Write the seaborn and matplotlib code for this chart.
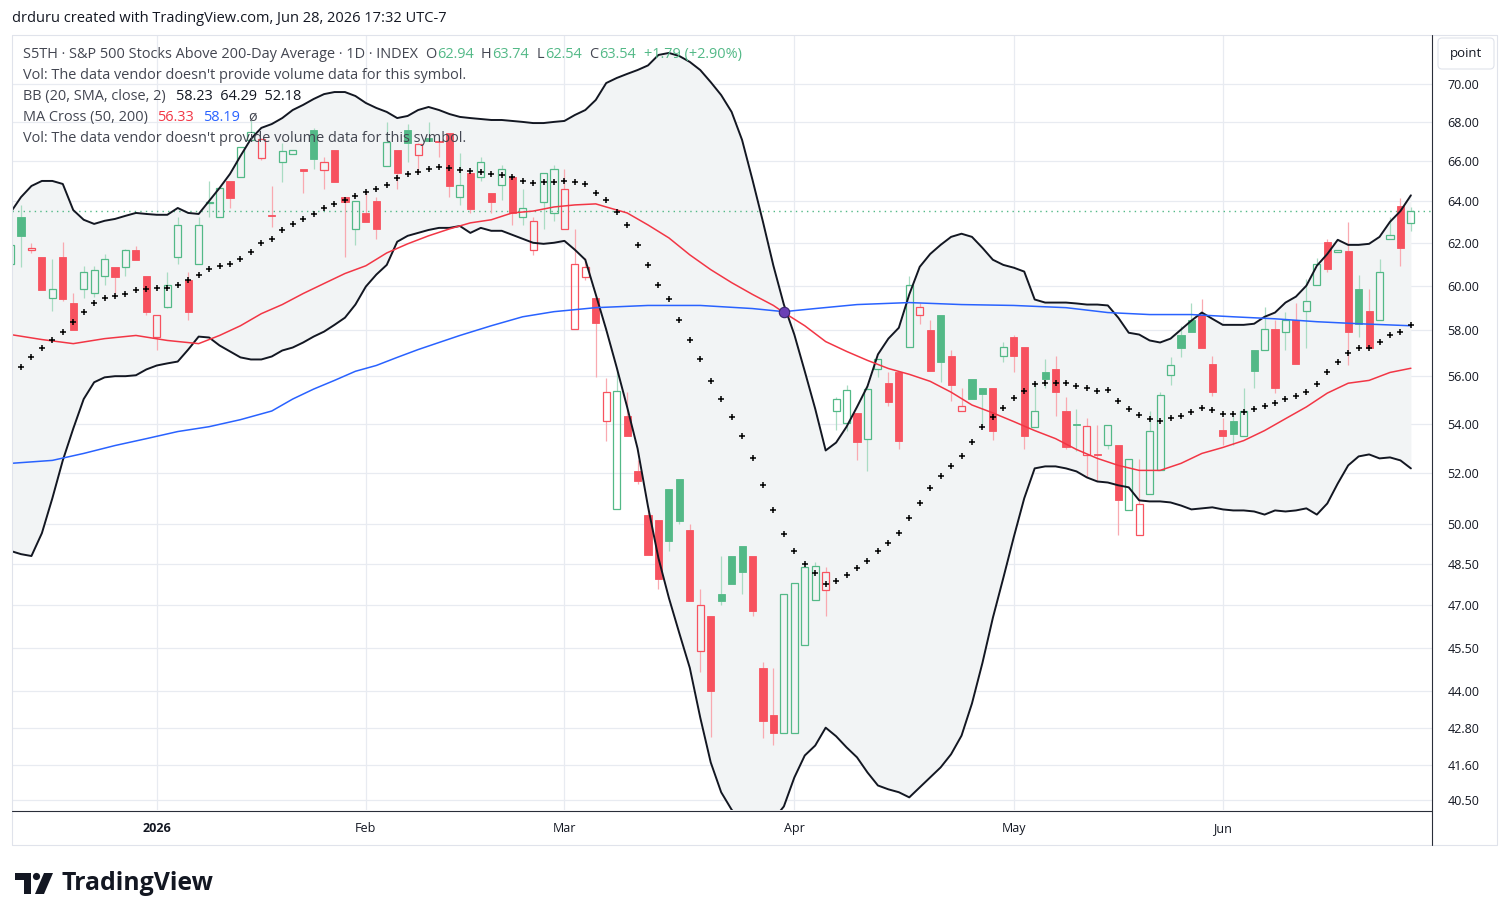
import matplotlib
matplotlib.use("Agg")
import numpy as np
import matplotlib.pyplot as plt
import matplotlib.ticker as ticker
from matplotlib.patches import Rectangle, FancyBboxPatch, Polygon, Circle
from matplotlib.lines import Line2D
from matplotlib.transforms import IdentityTransform
import seaborn as sns

# ---------------- data ----------------
# daily bars, index 0 = first full bar shown (Dec 12, 2025), -1 = cut-off bar
bar_index = list(range(-1, 134))
prior_close = 61.2

opens = [61.0,
         63.25, 61.65, 61.35, 59.46, 61.35, 59.2, 59.86, 59.68, 60.45, 60.85,
         60.85, 61.67, 60.45, 57.71, 59.05, 61.35, 60.28, 61.0, 63.92, 63.24,
         65.0, 65.2, 67.07, 66.14, 63.32, 65.95, 66.35, 65.6, 67.6, 65.55,
         66.56, 64.2, 62.66, 63.45, 64.01, 65.75, 66.56, 67.6, 66.3, 67.15,
         67.0, 67.45, 64.2, 65.4, 65.2, 64.4, 64.8, 65.2, 63.24, 61.67,
         63.96, 63.45, 62.66, 58.05, 60.4, 59.46, 54.1, 50.57, 54.31, 52.06,
         50.37, 50.15, 51.35, 51.74, 49.77, 45.39, 46.62, 47.4, 48.8, 49.17,
         48.8, 44.8, 43.23, 42.61, 42.61, 45.6, 47.19, 47.55, 54.52, 54.04,
         54.44, 53.38, 56.28, 55.69, 56.15, 57.27, 58.69, 58.02, 58.69, 56.84,
         54.5, 55.86, 55.5, 55.5, 56.84, 57.67, 57.27, 53.87, 56.15, 56.28,
         54.52, 54.0, 52.7, 52.76, 53.14, 53.14, 50.53, 49.58, 51.15, 52.1,
         56.03, 57.8, 58.46, 58.69, 56.5, 53.75, 54.12, 53.5, 57.14, 57.14,
         58.05, 57.9, 58.46, 58.87, 60.05, 62.05, 61.57, 61.62, 59.86, 58.87,
         58.46, 62.19, 63.77, 62.94]

highs = [62.05,
         63.82, 62.0, 61.35, 61.25, 62.05, 59.68, 60.9, 60.92, 61.45, 60.85,
         61.7, 61.85, 60.45, 58.69, 60.65, 63.24, 60.65, 63.24, 65.0, 64.65,
         65.0, 66.71, 68.1, 67.17, 64.75, 66.9, 66.56, 65.6, 67.7, 66.2,
         66.56, 64.2, 64.01, 64.46, 64.2, 68.0, 66.56, 67.9, 66.9, 68.0,
         67.0, 67.45, 66.41, 65.4, 66.2, 64.4, 65.8, 65.2, 64.6, 63.24,
         65.4, 65.8, 65.6, 62.66, 61.3, 59.46, 55.9, 56.28, 55.31, 52.5,
         50.68, 50.15, 51.35, 51.74, 50.0, 47.59, 46.62, 48.8, 48.8, 49.17,
         48.8, 45.01, 44.8, 47.4, 47.8, 48.39, 48.58, 48.39, 55.1, 55.6,
         54.44, 55.6, 56.71, 56.15, 56.15, 60.45, 59.23, 58.46, 58.69, 57.1,
         55.48, 55.86, 55.5, 55.5, 57.49, 57.8, 57.27, 55.73, 56.71, 56.88,
         55.1, 54.6, 54.24, 53.95, 53.95, 53.14, 52.54, 52.54, 54.52, 55.31,
         56.8, 58.19, 59.2, 59.37, 56.84, 54.24, 54.31, 55.48, 57.14, 59.05,
         58.46, 58.82, 59.23, 60.3, 61.3, 62.19, 61.67, 63.0, 60.5, 59.86,
         61.25, 63.24, 64.16, 63.74]

lows = [60.85,
        60.85, 61.5, 59.82, 58.86, 59.3, 58.0, 59.46, 59.5, 60.05, 59.68,
        60.45, 61.2, 58.69, 57.14, 59.0, 61.0, 58.46, 61.0, 63.24, 63.24,
        63.67, 65.2, 67.07, 66.05, 62.76, 64.95, 66.35, 64.4, 65.6, 64.6,
        64.95, 61.35, 61.9, 63.0, 62.19, 65.75, 64.6, 65.95, 65.4, 67.0,
        66.2, 64.2, 63.8, 63.45, 65.0, 63.45, 64.05, 62.85, 62.85, 61.4,
        62.66, 63.05, 62.66, 58.05, 60.28, 55.94, 53.3, 50.57, 53.47, 51.56,
        48.85, 47.59, 48.99, 50.0, 47.16, 44.66, 42.48, 47.01, 47.77, 47.4,
        46.62, 42.45, 42.25, 42.61, 42.61, 45.6, 47.19, 46.62, 53.75, 53.7,
        52.5, 52.06, 55.94, 54.73, 52.94, 57.27, 58.28, 56.2, 55.73, 54.93,
        54.5, 55.02, 53.95, 53.34, 56.58, 56.15, 52.94, 53.87, 55.5, 54.31,
        52.94, 52.86, 51.82, 51.66, 52.94, 49.58, 50.53, 49.58, 51.15, 52.1,
        55.6, 56.8, 57.9, 57.23, 55.14, 53.14, 53.14, 53.5, 55.5, 57.14,
        55.27, 57.14, 56.5, 57.23, 60.05, 60.65, 61.57, 56.45, 57.71, 57.23,
        58.46, 62.19, 60.92, 62.54]

closes = [61.9,
          62.33, 61.75, 59.82, 59.87, 59.4, 58.02, 60.65, 60.7, 61.25, 60.4,
          61.67, 61.2, 58.82, 58.69, 60.05, 62.85, 58.82, 62.85, 63.98, 64.65,
          64.16, 66.71, 67.48, 67.12, 63.28, 66.5, 66.56, 65.52, 66.1, 65.95,
          64.95, 63.96, 64.01, 63.0, 62.66, 66.97, 65.4, 66.91, 66.85, 67.0,
          66.95, 64.75, 64.8, 63.6, 65.95, 63.96, 65.6, 63.45, 63.65, 63.05,
          65.4, 65.6, 64.6, 61.0, 60.85, 58.3, 55.31, 55.35, 53.47, 51.66,
          48.85, 47.95, 49.35, 50.11, 47.16, 47.01, 44.03, 47.16, 47.77, 48.21,
          46.8, 43.03, 42.61, 47.4, 47.8, 48.39, 48.42, 48.21, 55.02, 55.39,
          53.26, 55.44, 56.71, 54.89, 53.3, 60.05, 59.05, 56.2, 56.62, 55.6,
          54.73, 55.02, 55.25, 53.7, 57.27, 56.84, 53.5, 54.5, 55.86, 55.3,
          53.02, 53.96, 53.9, 52.72, 53.95, 50.92, 52.54, 50.76, 53.71, 55.2,
          56.45, 57.23, 57.93, 57.23, 55.31, 53.5, 53.55, 54.52, 56.2, 58.05,
          55.48, 58.46, 56.5, 59.28, 61.01, 60.78, 61.67, 57.93, 58.28, 57.23,
          60.65, 62.38, 61.75, 63.54]

# Bollinger Bands (20, SMA, close, 2)
bb_upper = [63.45,
            64.2, 64.75, 65.0, 65.0, 64.85, 63.57, 63.1, 62.9, 63.05, 63.14,
            63.29, 63.43, 63.38, 63.34, 63.34, 63.67, 63.43, 63.38, 64.01, 64.65,
            65.35, 66.25, 67.12, 67.69, 67.89, 68.2, 68.62, 68.89, 69.2, 69.46,
            69.57, 69.57, 69.36, 68.99, 68.73, 68.52, 68.2, 68.31, 68.62, 68.78,
            68.62, 68.41, 68.26, 68.2, 68.15, 68.1, 68.1, 68.05, 68.0, 67.94,
            67.94, 68.0, 68.05, 68.36, 68.62, 69.15, 70.05, 70.32, 70.54, 70.75,
            71.0, 71.57, 71.68, 71.51, 71.19, 70.75, 70.1, 69.41, 68.52, 67.07,
            65.05, 63.0, 60.92, 59.14, 57.8, 56.2, 54.61, 52.9, 53.22, 53.87,
            54.69, 55.56, 56.93, 57.62, 58.1, 59.6, 60.87, 61.47, 61.9, 62.28,
            62.43, 62.28, 61.76, 61.2, 60.96, 60.83, 60.65, 59.37, 59.23, 59.23,
            59.23, 59.19, 59.14, 59.14, 59.1, 58.55, 57.88, 57.8, 57.54, 57.45,
            57.62, 58.02, 58.42, 58.78, 58.5, 58.23, 58.23, 58.23, 58.28, 58.59,
            58.78, 59.23, 59.5, 60.0, 60.92, 61.47, 62.14, 61.9, 61.9, 61.95,
            62.28, 63.0, 63.52, 64.29]

bb_lower = [48.99,
            48.87, 48.8, 49.66, 51.0, 52.5, 53.79, 55.02, 55.73, 55.94, 55.99,
            55.99, 56.03, 56.28, 56.45, 56.54, 56.62, 57.14, 57.71, 57.67, 57.32,
            57.06, 56.8, 56.71, 56.71, 56.84, 57.1, 57.23, 57.45, 57.71, 57.93,
            58.23, 58.55, 59.14, 59.96, 60.51, 60.96, 62.05, 62.33, 62.47, 62.61,
            62.71, 62.71, 62.8, 62.47, 62.71, 62.57, 62.57, 62.38, 62.19, 62.0,
            61.95, 62.0, 62.09, 61.67, 61.2, 59.6, 58.02, 56.37, 54.69, 52.98,
            50.68, 48.72, 47.26, 46.0, 44.8, 43.13, 41.68, 40.74, 40.2, 39.8,
            39.6, 39.6, 39.9, 40.3, 41.2, 41.9, 42.22, 42.8, 42.52, 42.16,
            41.84, 41.36, 40.95, 40.83, 40.74, 40.58, 40.89, 41.2, 41.52, 41.94,
            42.54, 43.6, 44.97, 46.55, 47.99, 49.51, 51.0, 52.18, 52.26, 52.26,
            52.18, 52.06, 51.82, 51.66, 51.62, 51.51, 51.43, 50.92, 50.88, 50.88,
            50.84, 50.72, 50.57, 50.61, 50.65, 50.57, 50.53, 50.53, 50.49, 50.37,
            50.53, 50.49, 50.53, 50.61, 50.37, 50.8, 51.58, 52.3, 52.66, 52.74,
            52.58, 52.62, 52.5, 52.18]

basis_index = list(range(0, 134))
bb_basis = [56.37, 56.8, 57.19, 57.54, 57.93, 58.37, 58.82, 59.23, 59.46, 59.55,
            59.64, 59.82, 59.86, 59.91, 59.91, 60.05, 60.28, 60.51, 60.78, 60.92,
            61.01, 61.25, 61.57, 62.0, 62.19, 62.61, 62.9, 63.14, 63.38, 63.67,
            63.87, 64.06, 64.26, 64.46, 64.6, 64.8, 65.15, 65.35, 65.45, 65.6,
            65.7, 65.65, 65.55, 65.5, 65.45, 65.35, 65.3, 65.2, 65.0, 64.9,
            64.95, 64.95, 65.0, 64.95, 64.85, 64.4, 64.06, 63.48, 62.85, 61.9,
            60.96, 60.05, 59.37, 58.46, 57.58, 56.71, 55.77, 55.02, 54.28, 53.47,
            52.58, 51.51, 50.53, 49.62, 48.99, 48.5, 48.17, 47.77, 47.88, 48.1,
            48.36, 48.61, 48.99, 49.28, 49.66, 50.22, 50.8, 51.39, 51.86, 52.26,
            52.66, 53.26, 53.87, 54.28, 54.65, 55.06, 55.35, 55.65, 55.69, 55.69,
            55.69, 55.56, 55.48, 55.35, 55.39, 54.93, 54.61, 54.36, 54.2, 54.12,
            54.24, 54.31, 54.48, 54.65, 54.56, 54.4, 54.4, 54.48, 54.61, 54.73,
            54.85, 55.02, 55.14, 55.31, 55.65, 56.15, 56.62, 56.97, 57.19, 57.23,
            57.49, 57.76, 57.93, 58.23]

# MA Cross (50, 200)
ma50_index = [-1, 2, 5, 8, 11, 14, 17, 19, 21, 23, 25, 27, 29, 31, 33, 35, 37, 39,
              41, 43, 45, 47, 49, 51, 53, 55, 56, 58, 60, 62, 64, 66, 68, 70, 72,
              73, 75, 77, 79, 81, 83, 85, 87, 89, 91, 93, 95, 97, 99, 101, 103,
              105, 107, 109, 111, 113, 115, 117, 119, 121, 123, 125, 127, 129,
              131, 133]
ma50 = [57.8, 57.58, 57.4, 57.62, 57.76, 57.54, 57.4, 57.76, 58.19, 58.73, 59.14,
        59.64, 60.1, 60.56, 60.92, 61.52, 61.95, 62.33, 62.66, 62.95, 63.1, 63.43,
        63.52, 63.72, 63.82, 63.87, 63.72, 63.43, 62.85, 62.23, 61.43, 60.74,
        60.14, 59.6, 59.1, 58.78, 58.19, 57.49, 57.06, 56.67, 56.32, 56.07, 55.77,
        55.31, 54.77, 54.44, 54.08, 53.71, 53.38, 52.94, 52.58, 52.3, 52.1, 52.1,
        52.38, 52.78, 53.02, 53.3, 53.71, 54.2, 54.69, 55.27, 55.69, 55.81, 56.15,
        56.33]

ma200_index = [-1, 3, 6, 9, 12, 15, 18, 21, 24, 26, 28, 30, 32, 34, 36, 38, 40, 42,
               45, 48, 51, 55, 60, 65, 70, 73, 76, 80, 85, 90, 95, 100, 104, 108,
               112, 116, 120, 124, 128, 133]
ma200 = [52.38, 52.5, 52.78, 53.1, 53.38, 53.67, 53.87, 54.16, 54.52, 55.02, 55.44,
         55.81, 56.2, 56.45, 56.8, 57.14, 57.45, 57.76, 58.19, 58.59, 58.82, 59.0,
         59.1, 59.1, 58.96, 58.82, 58.96, 59.14, 59.23, 59.14, 59.1, 59.0, 58.78,
         58.69, 58.69, 58.59, 58.5, 58.37, 58.28, 58.19]

cross_index = 73
cross_value = 58.8
last_close = 63.54

month_ticks = [13, 33, 52, 74, 95, 115]
month_labels = ["2026", "Feb", "Mar", "Apr", "May", "Jun"]
price_ticks = [40.5, 41.6, 42.8, 44.0, 45.5, 47.0, 48.5, 50.0, 52.0, 54.0, 56.0,
               58.0, 60.0, 62.0, 64.0, 66.0, 68.0, 70.0]

# ---------------- style ----------------
GREEN = "#53b987"
RED = "#f7525f"
GREEN_WICK = "#a9dcc3"
RED_WICK = "#f9a9b0"
GRID = "#e8ebf1"
FILL = "#f2f4f5"
TXT = "#131722"
LBL = "#434651"

sns.set_style("white")
plt.rcParams["font.family"] = ["Open Sans", "DejaVu Sans"]

W, H = 1510, 921
fig = plt.figure(figsize=(W / 100, H / 100), dpi=100)
fig.patch.set_facecolor("white")
renderer = fig.canvas.get_renderer()

ax = fig.add_axes([12 / W, 1 - 810 / H, 1420 / W, 775 / H])
ax.set_facecolor("white")
ax.set_yscale("log")
ax.set_xlim(-0.86, 135.02)
ax.set_ylim(40.19, 72.67)
for s in ax.spines.values():
    s.set_visible(False)


def fit_size(s, target, weight="normal"):
    t = fig.text(0, 0, s, fontsize=10, fontweight=weight)
    w = t.get_window_extent(renderer).width
    t.remove()
    return 10 * target / w


axis_size = fit_size("70.00", 32)

# grid
for p in price_ticks:
    ax.axhline(p, color=GRID, lw=0.9, zorder=0.5)
for m in month_ticks:
    ax.axvline(m, color=GRID, lw=0.9, zorder=0.5)

# band fill
ax.fill_between(bar_index, bb_lower, bb_upper, color=FILL, lw=0, zorder=1)

# last price line
ax.axhline(last_close, color=GREEN, lw=1.0, ls=(0, (1, 3)), zorder=2)

# candles
w = 0.68
prev = [prior_close] + closes[:-1]
for x, o, hi, lo, c, pc in zip(bar_index, opens, highs, lows, closes, prev):
    up = c >= pc
    col = GREEN if up else RED
    wcol = GREEN_WICK if up else RED_WICK
    top, bot = max(o, c), min(o, c)
    if hi > top:
        ax.vlines(x, top, hi, color=wcol, lw=0.9, zorder=3)
    if lo < bot:
        ax.vlines(x, lo, bot, color=wcol, lw=0.9, zorder=3)
    if c > o:
        ax.add_patch(Rectangle((x - w / 2, bot), w, top - bot, facecolor="none",
                               edgecolor=col, lw=0.9, zorder=3.2))
    else:
        ax.add_patch(Rectangle((x - w / 2, bot), w, max(top - bot, 0.02),
                               facecolor=col, edgecolor=col, lw=0.6, zorder=3.2))

# indicators
sns.lineplot(x=bar_index, y=bb_upper, ax=ax, color=TXT, lw=1.4, zorder=4,
             estimator=None, sort=False, legend=False)
sns.lineplot(x=bar_index, y=bb_lower, ax=ax, color=TXT, lw=1.4, zorder=4,
             estimator=None, sort=False, legend=False)
sns.lineplot(x=ma200_index, y=ma200, ax=ax, color="#2962ff", lw=1.1, zorder=4.1,
             estimator=None, sort=False, legend=False)
sns.lineplot(x=ma50_index, y=ma50, ax=ax, color="#f23645", lw=1.1, zorder=4.2,
             estimator=None, sort=False, legend=False)
ax.plot(basis_index, bb_basis, ls="none", marker="+", ms=4.0, mew=1.1,
        color="black", zorder=5)
ax.plot([cross_index], [cross_value], marker="o", ms=7.5, mfc="#6a3fb5",
        mec="#3a2570", mew=0.8, zorder=6)

# axes ticks
ax.yaxis.tick_right()
ax.yaxis.set_major_locator(ticker.FixedLocator(price_ticks))
ax.yaxis.set_minor_locator(ticker.NullLocator())
ax.yaxis.set_major_formatter(ticker.FormatStrFormatter("%.2f"))
ax.tick_params(axis="y", length=0, pad=11, labelsize=axis_size, labelcolor=TXT)
ax.set_xticks(month_ticks)
ax.set_xticklabels(month_labels)
ax.xaxis.set_minor_locator(ticker.NullLocator())
ax.tick_params(axis="x", length=0, pad=8.5, labelsize=axis_size, labelcolor=TXT)
ax.get_xticklabels()[0].set_fontweight("bold")
ax.set_xlabel("")
ax.set_ylabel("")

# frame lines (pixel coordinates)
idt = IdentityTransform()


def hline(x0, x1, y, color, lw=1.0):
    fig.add_artist(Line2D([x0, x1], [H - y, H - y], color=color, lw=lw, transform=idt))


def vline(x, y0, y1, color, lw=1.0):
    fig.add_artist(Line2D([x, x], [H - y0, H - y1], color=color, lw=lw, transform=idt))


hline(12, 1497, 35, "#e0e3eb", 0.8)
hline(12, 1497, 845, "#e0e3eb", 0.8)
vline(12, 35, 845, "#e0e3eb", 0.8)
vline(1497, 35, 845, "#e0e3eb", 0.8)
vline(1432, 35, 845, "#2a2e39", 0.8)
hline(12, 1432, 811, "#2a2e39", 0.8)

# "point" box
fig.add_artist(FancyBboxPatch((1438, H - 69), 56, 31, boxstyle="round,pad=0,rounding_size=4",
                              facecolor="white", edgecolor="#e0e3eb", lw=0.8, transform=idt))
fig.text(1466 / W, 1 - 54 / H, "point", ha="center", va="center", fontsize=axis_size * 1.05,
         color=TXT)


# text helpers
def put(x, y, s, color, size, weight="normal"):
    t = fig.text(x / W, 1 - y / H, s, color=color, fontsize=size, fontweight=weight,
                 ha="left", va="center")
    return t.get_window_extent(renderer).x1


vol_text = "Vol: The data vendor doesn't provide volume data for this symbol."
leg = fit_size(vol_text, 443)

put(12, 18, "drduru created with TradingView.com, Jun 28, 2026 17:32 UTC-7", TXT,
    fit_size("drduru created with TradingView.com, Jun 28, 2026 17:32 UTC-7", 436))

x = put(23, 54.5, "S5TH \u00b7 S&P 500 Stocks Above 200-Day Average \u00b7 1D \u00b7 INDEX", LBL, leg)
for k, v in [("O", "62.94"), ("H", "63.74"), ("L", "62.54"), ("C", "63.54")]:
    x = put(x + 7, 54.5, k, LBL, leg)
    x = put(x + 1, 54.5, v, GREEN, leg)
put(x + 8, 54.5, "+1.79 (+2.90%)", GREEN, leg)

put(23, 75.5, vol_text, LBL, leg)

x = put(23, 96.5, "BB (20, SMA, close, 2)", LBL, leg)
put(x + 10, 96.5, "58.23  64.29  52.18", TXT, leg)

x = put(23, 117.5, "MA Cross (50, 200)", LBL, leg)
x = put(x + 9, 117.5, "56.33", "#f23645", leg)
x = put(x + 9, 117.5, "58.19", "#2962ff", leg)
put(x + 9, 117.5, "\u00f8", LBL, leg)

put(23, 138.5, vol_text, LBL, leg)

# TradingView logo
fig.add_artist(Polygon([(15, H - 873), (31, H - 873), (31, H - 894), (24, H - 894),
                        (24, H - 880), (15, H - 880)], closed=True, facecolor=TXT,
                       edgecolor="none", transform=idt))
fig.add_artist(Circle((36.5, H - 876.5), 3.6, facecolor=TXT, edgecolor="none", transform=idt))
fig.add_artist(Polygon([(44, H - 873), (53, H - 873), (44, H - 894), (35, H - 894)],
                       closed=True, facecolor=TXT, edgecolor="none", transform=idt))
put(61, 883, "TradingView", TXT, fit_size("TradingView", 152, "bold"), "bold")

fig.savefig("out.png", dpi=100, facecolor="white")
